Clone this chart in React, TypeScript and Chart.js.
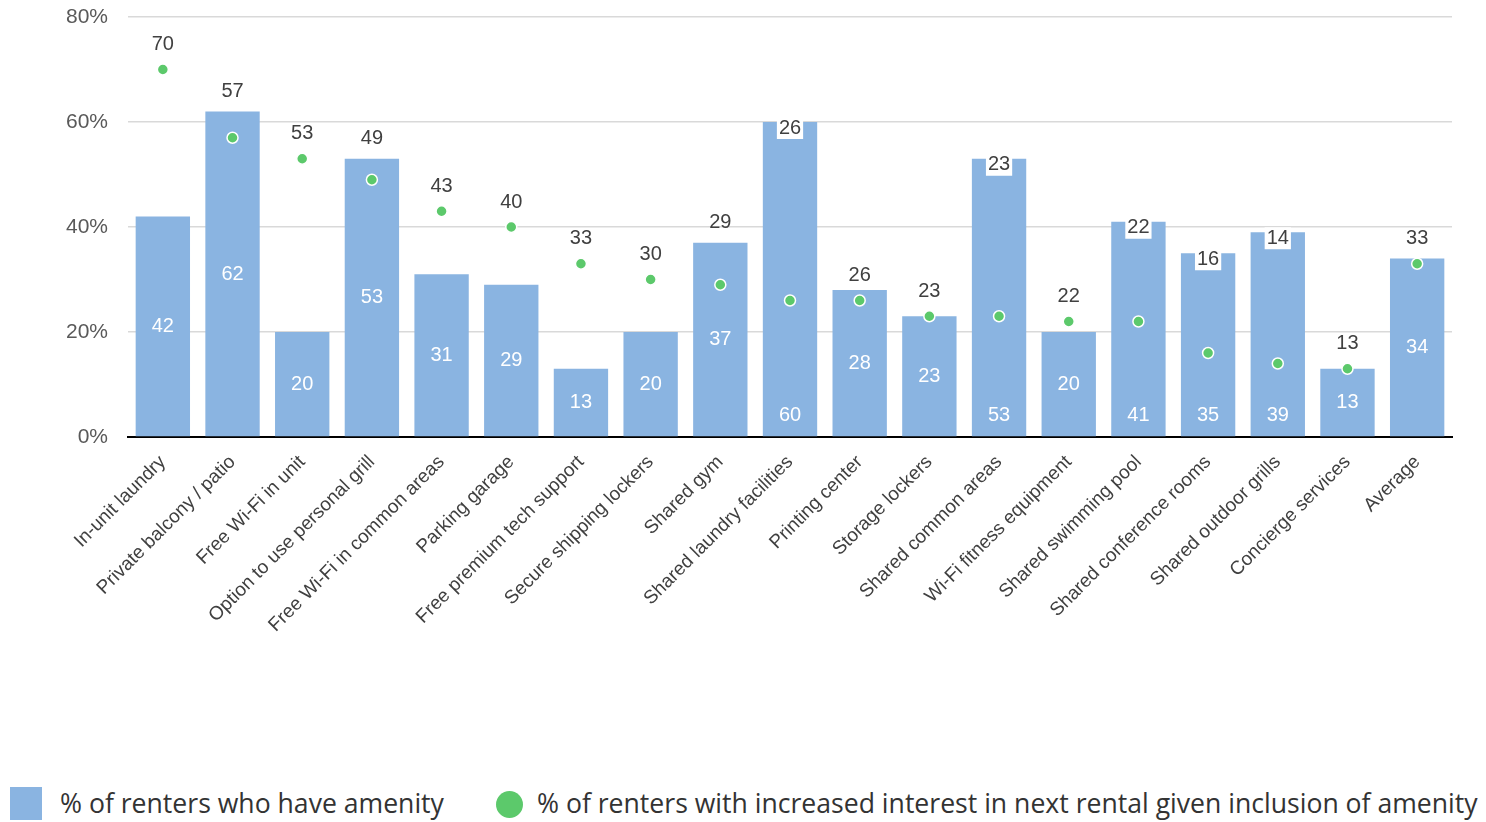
import React, { useEffect, useRef } from "react";
import { Chart, registerables } from "chart.js";

Chart.register(...registerables);

const categories = [
  "In-unit laundry",
  "Private balcony / patio",
  "Free Wi-Fi in unit",
  "Option to use personal grill",
  "Free Wi-Fi in common areas",
  "Parking garage",
  "Free premium tech support",
  "Secure shipping lockers",
  "Shared gym",
  "Shared laundry facilities",
  "Printing center",
  "Storage lockers",
  "Shared common areas",
  "Wi-Fi fitness equipment",
  "Shared swimming pool",
  "Shared conference rooms",
  "Shared outdoor grills",
  "Concierge services",
  "Average",
];

const haveAmenity = [42, 62, 20, 53, 31, 29, 13, 20, 37, 60, 28, 23, 53, 20, 41, 35, 39, 13, 34];
const increasedInterest = [70, 57, 53, 49, 43, 40, 33, 30, 29, 26, 26, 23, 23, 22, 22, 16, 14, 13, 33];

const yTicks = [0, 20, 40, 60, 80];

const haveLabel = "% of renters who have amenity";
const interestLabel = "% of renters with increased interest in next rental given inclusion of amenity";

const BAR_COLOR = "#8ab4e1";
const DOT_COLOR = "#5cc96b";
const NARROW = "'Liberation Sans Narrow', 'Arial Narrow', 'Liberation Sans', sans-serif";

const labelPlugin = {
  id: "valueLabels",
  afterDatasetsDraw(chart: any) {
    const ctx = chart.ctx;
    const barMeta = chart.getDatasetMeta(1);
    const dotMeta = chart.getDatasetMeta(0);
    const yScale = chart.scales.y;
    const base = yScale.getPixelForValue(0);
    ctx.save();
    ctx.font = `20px ${NARROW}`;
    ctx.textAlign = "center";
    ctx.textBaseline = "middle";
    haveAmenity.forEach((v, i) => {
      const bar = barMeta.data[i];
      const dot = dotMeta.data[i];
      const p = increasedInterest[i];
      const diff = v - p;
      const gap = diff > 10;
      const barTop = bar.y;
      // bar label
      ctx.fillStyle = "#ffffff";
      const by = gap ? base - 22 : (barTop + base) / 2;
      ctx.fillText(String(v), bar.x, by);
      // point label
      const txt = String(p);
      if (gap) {
        const ty = barTop + 6;
        const w = ctx.measureText(txt).width + 4;
        ctx.fillStyle = "#ffffff";
        ctx.fillRect(dot.x - w / 2, ty - 11, w, 22);
        ctx.fillStyle = "#404040";
        ctx.fillText(txt, dot.x, ty);
      } else {
        ctx.fillStyle = "#404040";
        const ty = diff > 3 ? barTop - 20 : dot.y - 25;
        ctx.fillText(txt, dot.x, ty);
      }
    });
    ctx.restore();
  },
};

export default function App() {
  const canvasRef = useRef<HTMLCanvasElement | null>(null);

  useEffect(() => {
    if (!canvasRef.current) return;
    const chart = new Chart(canvasRef.current, {
      type: "bar",
      data: {
        labels: categories,
        datasets: [
          {
            type: "line",
            label: interestLabel,
            data: increasedInterest,
            showLine: false,
            pointRadius: 5.5,
            pointBackgroundColor: DOT_COLOR,
            pointBorderColor: "#ffffff",
            pointBorderWidth: 1.5,
            order: 0,
          } as any,
          {
            type: "bar",
            label: haveLabel,
            data: haveAmenity,
            backgroundColor: BAR_COLOR,
            barPercentage: 0.78,
            categoryPercentage: 1,
            order: 1,
          },
        ],
      },
      options: {
        animation: false,
        responsive: false,
        maintainAspectRatio: false,
        layout: { padding: { left: 0, right: 34, top: 0, bottom: 0 } },
        plugins: {
          legend: { display: false },
          tooltip: { enabled: false },
        },
        scales: {
          x: {
            grid: { display: false, drawTicks: false },
            border: { color: "#000000", width: 2 },
            ticks: {
              minRotation: 45,
              maxRotation: 45,
              autoSkip: false,
              color: "#404040",
              font: { family: NARROW, size: 19 },
              padding: 14,
            },
            afterFit(scale: any) {
              scale.height = 264;
            },
          },
          y: {
            min: 0,
            max: 80,
            afterBuildTicks(scale: any) {
              scale.ticks = yTicks.map((v) => ({ value: v }));
            },
            grid: { color: "#d9d9d9", lineWidth: 1.5, drawTicks: false },
            border: { display: false },
            ticks: {
              color: "#595959",
              font: { family: NARROW, size: 21 },
              padding: 20,
              callback: (v: any) => `${v}%`,
            },
            afterFit(scale: any) {
              scale.width = 128;
              scale.paddingTop = 17;
              scale.paddingBottom = 0;
            },
          },
        },
      },
      plugins: [labelPlugin],
    });
    return () => chart.destroy();
  }, []);

  const legendText: React.CSSProperties = {
    position: "absolute",
    top: 784,
    fontFamily: "'Open Sans', sans-serif",
    fontSize: 26.6,
    lineHeight: "38px",
    color: "#333333",
    whiteSpace: "nowrap",
  };

  return (
    <div style={{ position: "fixed", left: 0, top: 0, width: 1486, height: 822, background: "#fff", overflow: "hidden" }}>
      <canvas ref={canvasRef} width={1486} height={701} style={{ position: "absolute", left: 0, top: 0, width: 1486, height: 701 }} />
      <div style={{ position: "absolute", left: 10, top: 787, width: 32, height: 33, background: BAR_COLOR }} />
      <div style={{ ...legendText, left: 60 }}>{haveLabel}</div>
      <div style={{ position: "absolute", left: 496, top: 791, width: 27, height: 27, borderRadius: "50%", background: DOT_COLOR }} />
      <div style={{ ...legendText, left: 537 }}>{interestLabel}</div>
    </div>
  );
}
